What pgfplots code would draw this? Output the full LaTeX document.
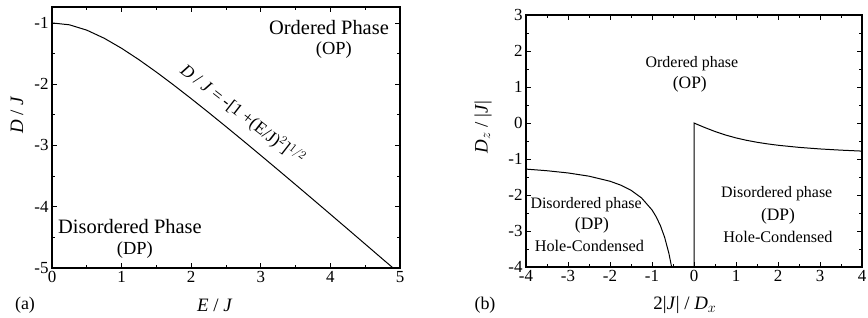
\documentclass[border=0pt]{standalone}
\usepackage{pgfplots}
\pgfplotsset{compat=1.18}
\usepackage{fontspec}
\setmainfont{Liberation Serif}
\begin{document}
\begin{tikzpicture}
\useasboundingbox (0bp,0bp) rectangle (868bp,318bp);
\pgfplotsset{
  every axis/.append style={
    scale only axis, anchor=south west,
    axis line style={line width=1.1pt},
    tick style={line width=0.7pt, black},
    tick align=inside,
    major tick length=5pt, minor tick length=3pt,
    minor tick num=1,
    xtick pos=both, ytick pos=both,
    /pgf/number format/assume math mode=true,
    tick label style={font=\fontsize{17}{19}\selectfont},
    label style={font=\fontsize{19}{21}\selectfont},
    clip=false,
  }
}
% Panel (a)
\begin{axis}[
  at={(52bp,50bp)}, width=348bp, height=261bp,
  xmin=0, xmax=5, ymin=-5, ymax=-0.74,
  xtick={0,1,2,3,4,5}, ytick={-5,-4,-3,-2,-1},
  yticklabels={-5,-4,-3,-2,-1},
  xlabel={\textit{E} / \textit{J}},
  ylabel={\textit{D} / \textit{J}},
  xlabel style={at={(axis description cs:0.468,0)}, anchor=center, yshift=-37bp},
  ylabel style={at={(axis description cs:0,0.586)}, anchor=center, yshift=35bp},
]
\addplot[black, line width=1pt] coordinates {
(0,-1) (0.25,-1.0308) (0.5,-1.1180) (0.75,-1.25) (1.0,-1.4142) (1.25,-1.6008)
(1.5,-1.8028) (1.75,-2.0156) (2.0,-2.2361) (2.25,-2.4622) (2.5,-2.6926)
(2.75,-2.9262) (3.0,-3.1623) (3.25,-3.4004) (3.5,-3.6401) (3.75,-3.8810)
(4.0,-4.1231) (4.25,-4.3661) (4.5,-4.6098) (4.75,-4.8542) (4.9,-4.999)
};
\node[font=\fontsize{20.5}{22}\selectfont] at (axis cs:3.98,-1.07) {Ordered Phase};
\node[font=\fontsize{18.5}{20}\selectfont] at (axis cs:4.05,-1.45) {(OP)};
\node[font=\fontsize{20.5}{22}\selectfont] at (axis cs:1.12,-4.33) {Disordered Phase};
\node[font=\fontsize{18.5}{20}\selectfont] at (axis cs:1.19,-4.71) {(DP)};
\node[rotate=-38, font=\fontsize{17.5}{19}\selectfont] at (axis cs:2.74,-2.49)
  {\textit{D} / \textit{J} = -[1 +(E/J)$^{2}$]$^{1/2}$};
\end{axis}
% Panel (b)
\begin{axis}[
  at={(526bp,51bp)}, width=336bp, height=252bp,
  xmin=-4, xmax=4, ymin=-4, ymax=3,
  xtick={-4,-3,-2,-1,0,1,2,3,4},
  xticklabels={-4,-3,-2,-1,0,1,2,3,4},
  ytick={-4,-3,-2,-1,0,1,2,3},
  yticklabels={-4,-3,-2,-1,0,1,2,3},
  xlabel={2|\textit{J}| / \textit{D}$_x$},
  ylabel={\textit{D}$_z$ / |\textit{J}|},
  xlabel style={at={(axis description cs:0.473,0)}, anchor=center, yshift=-38bp},
  ylabel style={at={(axis description cs:0,0.556)}, anchor=center, yshift=43bp},
]
\addplot[black, line width=1pt] coordinates {
(0,-4) (0,0) (0.1,-0.0499) (0.25,-0.1231) (0.5,-0.2361) (0.75,-0.3333)
(1,-0.4142) (1.25,-0.4806) (1.5,-0.5352) (1.75,-0.5803) (2,-0.6180)
(2.5,-0.6770) (3,-0.7208) (3.5,-0.7543) (4,-0.7808)
};
\addplot[black, line width=1pt] coordinates {
(-4,-1.2808) (-3.5,-1.3257) (-3,-1.3874) (-2.5,-1.4770) (-2,-1.6180)
(-1.75,-1.7232) (-1.5,-1.8685) (-1.25,-2.0806) (-1,-2.4142) (-0.9,-2.6060)
(-0.8,-2.8508) (-0.7,-3.1724) (-0.6,-3.6103) (-0.5333,-4.0)
};
\node[font=\fontsize{16}{18}\selectfont] at (axis cs:-0.05,1.65) {Ordered phase};
\node[font=\fontsize{17.5}{19}\selectfont] at (axis cs:-0.1,1.07) {(OP)};
\node[font=\fontsize{16}{18}\selectfont] at (axis cs:-2.57,-2.26) {Disordered phase};
\node[font=\fontsize{17.5}{19}\selectfont] at (axis cs:-2.43,-2.85) {(DP)};
\node[font=\fontsize{16.3}{18}\selectfont] at (axis cs:-2.49,-3.41) {Hole-Condensed};
\node[font=\fontsize{16}{18}\selectfont] at (axis cs:1.97,-1.95) {Disordered phase};
\node[font=\fontsize{17.5}{19}\selectfont] at (axis cs:2.0,-2.6) {(DP)};
\node[font=\fontsize{16.3}{18}\selectfont] at (axis cs:2.0,-3.16) {Hole-Condensed};
\end{axis}
\node[font=\fontsize{18}{20}\selectfont] at (25bp,13bp) {(a)};
\node[font=\fontsize{18}{20}\selectfont] at (485bp,13bp) {(b)};
\end{tikzpicture}
\end{document}
